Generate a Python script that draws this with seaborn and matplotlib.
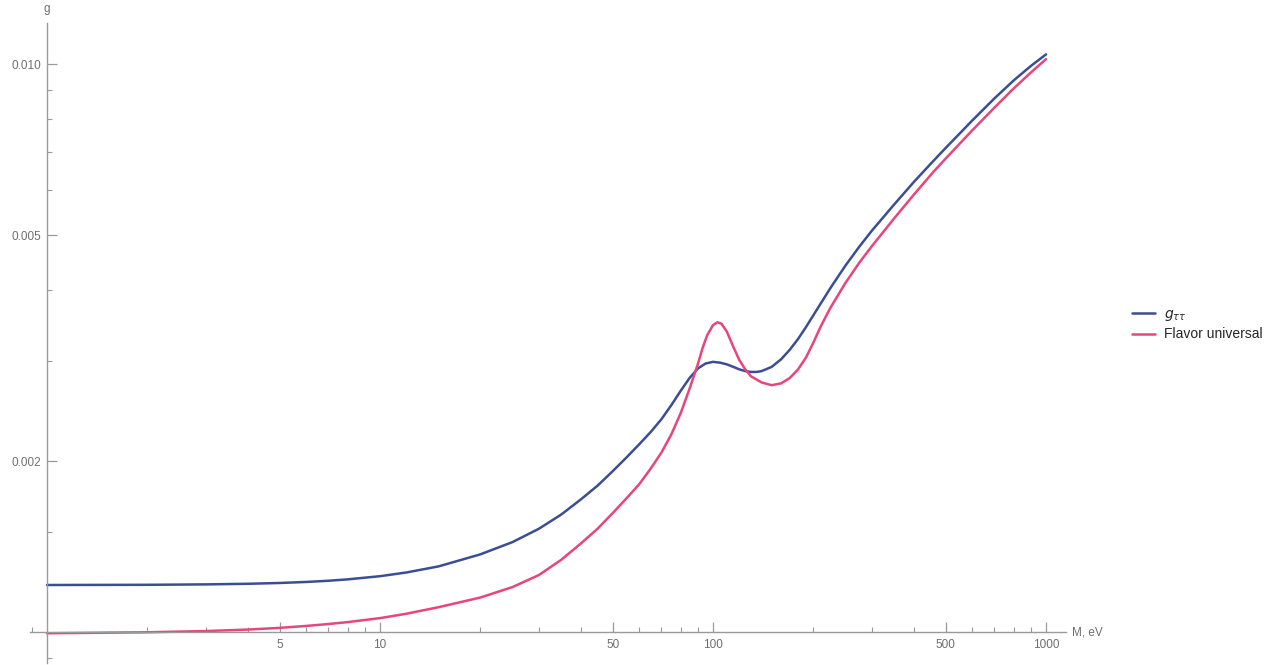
import numpy as np
import pandas as pd
import matplotlib
matplotlib.use("Agg")
import matplotlib.pyplot as plt
import matplotlib.ticker as mticker
import seaborn as sns

# ---- data ----
mass_tau = [1, 2, 3, 4, 5, 6, 7, 8, 10, 12, 15, 20, 25, 30, 35, 40, 45, 50, 55, 60,
            65, 70, 75, 80, 85, 90, 95, 100, 105, 110, 115, 120, 125, 130, 135, 140,
            150, 160, 170, 180, 190, 200, 225, 250, 275, 300, 350, 400, 450, 500,
            600, 700, 800, 900, 1000]
g_tautau = [0.001210, 0.001211, 0.001213, 0.001216, 0.001220, 0.001225, 0.001231,
            0.001238, 0.001254, 0.001273, 0.001305, 0.00137, 0.00144, 0.00152,
            0.00161, 0.00171, 0.00181, 0.00192, 0.00203, 0.00214, 0.00225, 0.00237,
            0.00251, 0.00266, 0.00280, 0.00291, 0.00297, 0.00299, 0.00298, 0.00296,
            0.00293, 0.00290, 0.00288, 0.00287, 0.00287, 0.00288, 0.00293, 0.00302,
            0.00314, 0.00328, 0.00344, 0.00361, 0.00403, 0.00442, 0.00477, 0.00509,
            0.00566, 0.00619, 0.00667, 0.00712, 0.00795, 0.00870, 0.00936, 0.00992,
            0.01040]

mass_univ = [1, 2, 3, 4, 5, 6, 7, 8, 10, 12, 15, 20, 25, 30, 35, 40, 45, 50, 55, 60,
             65, 70, 75, 80, 85, 90, 93, 96, 100, 103, 106, 110, 115, 120, 125, 130,
             140, 150, 160, 170, 180, 190, 200, 210, 225, 250, 275, 300, 350, 400,
             458, 500, 600, 700, 800, 900, 1000]
g_univ = [0.000995, 0.000999, 0.001004, 0.001010, 0.001017, 0.001025, 0.001033,
          0.001041, 0.001058, 0.001077, 0.001106, 0.00115, 0.00120, 0.00126,
          0.00134, 0.00143, 0.00152, 0.00162, 0.00172, 0.00182, 0.00194, 0.00207,
          0.00223, 0.00243, 0.00268, 0.00296, 0.00316, 0.00333, 0.00347, 0.00351,
          0.00349, 0.00338, 0.00318, 0.00301, 0.00290, 0.00282, 0.00275, 0.00272,
          0.00274, 0.00280, 0.00290, 0.00304, 0.00323, 0.00344, 0.00372, 0.00412,
          0.00447, 0.00478, 0.00535, 0.00588, 0.00645, 0.00682, 0.00764, 0.00838,
          0.00906, 0.00966, 0.01020]

series_names = [r"$g_{\tau\tau}$", "Flavor universal"]
series_colors = ["#3B4E94", "#E8457C"]

x_major = [5, 10, 50, 100, 500, 1000]
x_major_labels = ["5", "10", "50", "100", "500", "1000"]
x_minor = [0.9, 2, 3, 4, 6, 7, 8, 9, 20, 30, 40, 60, 70, 80, 90,
           200, 300, 400, 600, 700, 800, 900]
y_major = [0.002, 0.005, 0.010]
y_major_labels = ["0.002", "0.005", "0.010"]
y_minor = [0.0009, 0.0015, 0.003, 0.004, 0.006, 0.007, 0.008, 0.009]

df = pd.concat([
    pd.DataFrame({"M": mass_tau, "g": g_tautau, "series": series_names[0]}),
    pd.DataFrame({"M": mass_univ, "g": g_univ, "series": series_names[1]}),
], ignore_index=True)

# ---- style ----
sns.set_style("white")
plt.rcParams["font.family"] = ["Liberation Sans", "DejaVu Sans"]
axis_gray = "#9a9a9a"
label_gray = "#6e6e6e"

W, H = 1282, 665
fig = plt.figure(figsize=(W / 100, H / 100), dpi=100)
left_px, right_px, top_px, bottom_px = 30, 1066, 23, 663
ax = fig.add_axes([left_px / W, 1 - bottom_px / H,
                   (right_px - left_px) / W, (bottom_px - top_px) / H])

sns.lineplot(data=df, x="M", y="g", hue="series", hue_order=series_names,
             palette=dict(zip(series_names, series_colors)), linewidth=1.8,
             estimator=None, sort=True, ax=ax, legend=True)
for ln in ax.get_lines():
    ln.set_solid_joinstyle("round")
    ln.set_solid_capstyle("round")

ax.set_xscale("log")
ax.set_yscale("log")
ax.set_xlim(0.889, 1148)
ax.set_ylim(0.000882, 0.01181)

# Mathematica-like axes crossing at (1, 0.001)
for s in ["top", "right"]:
    ax.spines[s].set_visible(False)
ax.spines["left"].set_position(("data", 1))
ax.spines["bottom"].set_position(("data", 0.001))
for s in ["left", "bottom"]:
    ax.spines[s].set_color(axis_gray)
    ax.spines[s].set_linewidth(1.0)

ax.xaxis.set_major_locator(mticker.FixedLocator(x_major))
ax.xaxis.set_major_formatter(mticker.FixedFormatter(x_major_labels))
ax.xaxis.set_minor_locator(mticker.FixedLocator(x_minor))
ax.xaxis.set_minor_formatter(mticker.NullFormatter())
ax.yaxis.set_major_locator(mticker.FixedLocator(y_major))
ax.yaxis.set_major_formatter(mticker.FixedFormatter(y_major_labels))
ax.yaxis.set_minor_locator(mticker.FixedLocator(y_minor))
ax.yaxis.set_minor_formatter(mticker.NullFormatter())

ax.tick_params(axis="both", which="both", bottom=True, left=True,
               top=False, right=False)
ax.tick_params(axis="both", which="major", direction="in", length=7, width=0.9,
               color=axis_gray, labelcolor=label_gray, labelsize=8.5, pad=4)
ax.tick_params(axis="both", which="minor", direction="in", length=3.8, width=0.8,
               color=axis_gray)
ax.tick_params(axis="x", which="major", pad=5)

ax.set_xlabel("")
ax.set_ylabel("")
ax.grid(False)

# axis labels at the ends of the axes
ax.annotate("g", xy=(1, 1), xycoords=("data", "axes fraction"),
            xytext=(0, 6), textcoords="offset points", ha="center", va="bottom",
            color=label_gray, fontsize=8.5)
ax.annotate("M, eV", xy=(1, 0.001), xycoords=("axes fraction", "data"),
            xytext=(4, 0), textcoords="offset points", ha="left", va="center",
            color=label_gray, fontsize=8.5)

# legend on the right
handles, labels = ax.get_legend_handles_labels()
ax.legend_.remove()
fig.legend(handles, labels, loc="center left",
           bbox_to_anchor=(1122 / W, 1 - 324 / H), frameon=False,
           fontsize=10, handlelength=1.7, handletextpad=0.6, labelspacing=0.35,
           borderpad=0.2)

fig.savefig("out.png", dpi=100, facecolor="white")
